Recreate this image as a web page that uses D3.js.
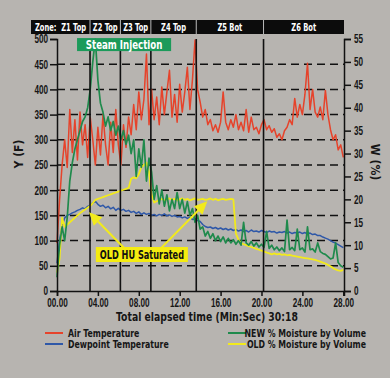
<!DOCTYPE html>
<html>
<head>
<meta charset="utf-8">
<script src="https://cdn.jsdelivr.net/npm/d3@7"></script>
<style>
  body { margin: 0; background: #b7b4b0; }
  svg { display: block; font-family: "DejaVu Sans Condensed", "DejaVu Sans", sans-serif; }
</style>
</head>
<body>
<div class="chart"></div>
<script>
// elapsed time in minutes
var minutes = [0,0.25,0.5,0.75,1,1.25,1.5,1.75,2,2.25,2.5,2.75,3,3.25,3.5,3.75,4,4.25,4.5,4.75,5,5.25,5.5,5.75,6,6.25,6.5,6.75,7,
  7.25,7.5,7.75,8,8.25,8.5,8.75,9,9.25,9.5,9.75,10,10.25,10.5,10.75,11,11.25,11.5,11.75,12,12.25,12.5,12.75,13,13.25,13.5,13.75,14,
  14.25,14.5,14.75,15,15.25,15.5,15.75,16,16.25,16.5,16.75,17,17.25,17.5,17.75,18,18.25,18.5,18.75,19,19.25,19.5,19.75,20,20.25,20.5,20.75,21,
  21.25,21.5,21.75,22,22.25,22.5,22.75,23,23.25,23.5,23.75,24,24.25,24.5,24.75,25,25.25,25.5,25.75,26,26.25,26.5,26.75,27,27.25,27.5,27.75,28];

// Y (F)
var airTemp = [95,180,250,300,245,360,275,340,260,355,290,330,265,345,300,250,325,270,350,290,250,335,275,360,290,250,330,285,345,
  310,370,320,395,340,380,470,330,400,340,385,330,405,350,395,438,345,390,335,410,355,395,444,360,420,498,400,375,
  345,360,330,340,318,330,315,335,395,335,320,340,325,350,320,335,318,360,315,345,320,325,312,330,340,320,328,315,
  322,305,312,300,318,325,340,330,382,345,370,350,390,452,360,400,355,345,365,340,398,350,320,300,310,280,290,265];

var dewpoint = [55,100,130,145,150,152,155,157,160,162,165,163,168,170,175,178,172,168,170,165,168,163,166,160,164,160,162,158,160,
  156,158,154,157,152,155,152,154,150,152,149,152,150,153,149,151,148,150,147,148,145,147,144,146,142,143,140,138,
  132,128,126,127,124,126,123,125,122,124,121,123,120,122,119,121,118,120,117,121,118,119,117,120,118,116,119,117,
  118,115,117,116,118,115,117,114,116,115,117,114,116,113,115,112,113,110,110,107,105,103,100,97,95,92,89,86];

// W (%)
var newMoisture = [3,10,14,11,16,24,28,31,33,35,37,38,40,44,50,55,46,41,39,36,38,35,37,34,36,33,35,32,34,
  30,33,25,31,27,33,24,29,26,20,23,19,22,18.5,21,17.5,20,18,21.5,18,20,17,19.5,16.5,18,15,16.5,13.5,14,
  12,13,11.5,12.5,11,12,10.8,11.8,10.5,11.5,10.5,11.2,10.2,11,10,15,10.5,10,10.8,9.8,10.5,9.6,10.2,9.5,13,9.3,10,9,
  9.6,8.8,9.4,8.6,15.5,9,9.5,8.8,13.5,9,9.4,8.5,14,9,9.2,8.5,10.5,8.6,8.2,8,7.5,7,7.2,10.5,6.2,5.5,5.2,5];

var oldMoisture = [4,7,16,14,14.5,15,15.5,16,16.5,17,17.4,17.8,18.2,18.6,19.2,19.9,20.1,20.3,20.5,20.7,20.9,21.1,21.3,21.5,21.7,21.9,22.1,22.3,22.5,
  24.5,24.8,24.6,25.5,27,27.5,28,26,21,19.3,19.6,19.9,20.1,19.8,20,20.2,19.9,20.1,19.8,20,20.2,19.9,20.1,19.8,20,20.2,19.9,20,
  20.1,19.9,20,20.2,19.9,20.1,19.8,20,20.1,19.9,20,20.1,20,12.5,11.2,10.5,10.2,10,9.8,9.6,9.4,9.2,9,8.8,8.6,8.4,8.2,8,
  8.2,8,8.1,7.9,8,7.8,7.9,7.7,7.6,7.5,7.4,7.3,7.2,7.1,7,6.9,6.8,6.6,6.4,6.2,6,5.7,5.4,5,4.7,4.5,4.4,4.6];

var leftTicks = [0,50,100,150,200,250,300,350,400,450,500];
var rightTicks = [0,5,10,15,20,25,30,35,40,45,50,55];
var timeTicks = [0,4,8,12,16,20,24,28];

var zoneEdges = [3.23, 6.2, 9.18, 13.62, 20.2];
var zoneNames = ["Zone:  Z1 Top", "Z2 Top", "Z3 Top", "Z4 Top", "Z5 Bot", "Z6 Bot"];

var svgWidth = 390;
var svgHeight = 378;
var margin = { top: 39, right: 46, bottom: 87, left: 57 };
var width = svgWidth - margin.left - margin.right;
var height = svgHeight - margin.top - margin.bottom;

var svg = d3.select(".chart")
  .append("svg")
  .attr("width", svgWidth)
  .attr("height", svgHeight);

var chart = svg.append("g")
  .attr("transform", "translate(" + margin.left + "," + margin.top + ")");

var xScale = d3.scaleLinear().domain([0, 28.07]).range([0, width]);
var yLeft = d3.scaleLinear().domain([0, 500]).range([height, 0]);
var yRight = d3.scaleLinear().domain([0, 55]).range([height, 0]);

// squeeze text horizontally, the original uses a condensed face
function squeeze(sel, k) {
  sel.each(function() {
    var t = d3.select(this);
    var x = +t.attr("x") || 0, y = +t.attr("y") || 0;
    var prev = t.attr("transform") || "";
    t.attr("x", 0).attr("y", 0)
      .attr("transform", prev + " translate(" + x + "," + y + ") scale(" + k + ",1)");
  });
}

// dashed gridlines
chart.append("g")
  .selectAll("line")
  .data(leftTicks.filter(function(d) { return d > 0 && d < 500; }))
  .enter()
  .append("line")
  .attr("x1", 0)
  .attr("x2", width)
  .attr("y1", function(d) { return yLeft(d); })
  .attr("y2", function(d) { return yLeft(d); })
  .attr("stroke", "#111")
  .attr("stroke-width", 1.5)
  .attr("stroke-dasharray", "8,5");

// series
var rows = minutes.map(function(m, i) {
  return { t: m, air: airTemp[i], dew: dewpoint[i], nw: newMoisture[i], old: oldMoisture[i] };
});

function drawLine(key, scale, color, w) {
  var line = d3.line()
    .x(function(d) { return xScale(d.t); })
    .y(function(d) { return scale(d[key]); });
  chart.append("path")
    .datum(rows)
    .attr("d", line)
    .attr("fill", "none")
    .attr("stroke", color)
    .attr("stroke-width", w)
    .attr("stroke-linejoin", "round");
}

drawLine("air", yLeft, "#e6432b", 1.5);
drawLine("dew", yLeft, "#2f58a8", 1.5);
drawLine("old", yRight, "#f2ea1c", 1.8);
drawLine("nw", yRight, "#1f8a4c", 1.7);

// zone boundaries
chart.append("g")
  .selectAll("line")
  .data(zoneEdges)
  .enter()
  .append("line")
  .attr("x1", function(d) { return xScale(d); })
  .attr("x2", function(d) { return xScale(d); })
  .attr("y1", 0)
  .attr("y2", height)
  .attr("stroke", "#111")
  .attr("stroke-width", 1.6);

// axes
var leftAxis = d3.axisLeft(yLeft).tickValues(leftTicks).tickSize(7).tickPadding(2);
var rightAxis = d3.axisRight(yRight).tickValues(rightTicks).tickSize(7).tickPadding(3);
var bottomAxis = d3.axisBottom(xScale).tickValues(timeTicks).tickSize(5).tickPadding(2)
  .tickFormat(d3.format("05.2f"));

function styleAxis(g) {
  g.selectAll("path").attr("stroke", "#111").attr("stroke-width", 1.5);
  g.selectAll("line").attr("stroke", "#111").attr("stroke-width", 1.5);
  g.selectAll("text").attr("fill", "#161616").style("font-size", "12px").style("font-weight", "bold");
  squeeze(g.selectAll("text"), 0.68);
}

chart.append("g").call(leftAxis).call(styleAxis);
chart.append("g").attr("transform", "translate(" + width + ",0)").call(rightAxis).call(styleAxis);
chart.append("g").attr("transform", "translate(0," + height + ")").call(bottomAxis).call(styleAxis);

// axis titles
svg.append("text")
  .attr("transform", "translate(23," + (margin.top + 115) + ") rotate(-90)")
  .attr("text-anchor", "middle")
  .style("font-size", "12px")
  .style("font-weight", "bold")
  .attr("fill", "#161616")
  .text("Y (F)");

svg.append("text")
  .attr("transform", "translate(371," + (margin.top + 123) + ") rotate(90)")
  .attr("text-anchor", "middle")
  .style("font-size", "12px")
  .style("font-weight", "bold")
  .attr("fill", "#161616")
  .text("W (%)");

svg.append("text")
  .attr("x", 207)
  .attr("y", margin.top + height + 30)
  .attr("text-anchor", "middle")
  .style("font-size", "12px")
  .style("font-weight", "bold")
  .attr("fill", "#161616")
  .text("Total elapsed time (Min:Sec) 30:18")
  .call(squeeze, 0.86);

// zone header
var header = chart.append("g").attr("transform", "translate(0,-19)");
var cellEdges = [-26].concat(zoneEdges.map(xScale)).concat([width]);

header.append("rect")
  .attr("x", cellEdges[0])
  .attr("y", 0)
  .attr("width", width - cellEdges[0])
  .attr("height", 14)
  .attr("fill", "#0c0c0c");

header.selectAll("line")
  .data(zoneEdges)
  .enter()
  .append("line")
  .attr("x1", function(d) { return xScale(d); })
  .attr("x2", function(d) { return xScale(d); })
  .attr("y1", 0)
  .attr("y2", 14)
  .attr("stroke", "#bbb")
  .attr("stroke-width", 1);

header.selectAll("text")
  .data(zoneNames)
  .enter()
  .append("text")
  .attr("x", function(d, i) { return (cellEdges[i] + cellEdges[i + 1]) / 2; })
  .attr("y", 11)
  .attr("text-anchor", "middle")
  .attr("fill", "#fff")
  .style("font-size", "11px")
  .style("font-weight", "bold")
  .style("white-space", "pre")
  .text(function(d) { return d; })
  .call(squeeze, 0.68);

// steam injection label
chart.append("rect")
  .attr("x", xScale(1.96))
  .attr("y", yRight(55.2))
  .attr("width", xScale(11.16) - xScale(1.96))
  .attr("height", 13)
  .attr("fill", "#1c9a5a");

chart.append("text")
  .attr("x", (xScale(1.96) + xScale(11.16)) / 2)
  .attr("y", yRight(55.2) + 11)
  .attr("text-anchor", "middle")
  .attr("fill", "#fff")
  .style("font-size", "12px")
  .style("font-weight", "bold")
  .text("Steam Injection")
  .call(squeeze, 0.8);

// OLD HU saturated callout
var arrows = [
  { from: [6.56, 9.4], to: [3.13, 17.2] },
  { from: [10.1, 9.2], to: [14.7, 19.6] }
];

arrows.forEach(function(a) {
  var x1 = xScale(a.from[0]), y1 = yRight(a.from[1]);
  var x2 = xScale(a.to[0]), y2 = yRight(a.to[1]);
  var ang = Math.atan2(y2 - y1, x2 - x1);
  var len = 13, half = 6;
  var bx = x2 - len * Math.cos(ang), by = y2 - len * Math.sin(ang);
  chart.append("line")
    .attr("x1", x1).attr("y1", y1)
    .attr("x2", bx).attr("y2", by)
    .attr("stroke", "#f2ea1c")
    .attr("stroke-width", 2);
  chart.append("polygon")
    .attr("points", [
      [x2, y2],
      [bx - half * Math.sin(ang), by + half * Math.cos(ang)],
      [bx + half * Math.sin(ang), by - half * Math.cos(ang)]
    ].map(function(p) { return p.join(","); }).join(" "))
    .attr("fill", "#f2ea1c");
});

chart.append("rect")
  .attr("x", xScale(3.8))
  .attr("y", yRight(9.6))
  .attr("width", xScale(12.8) - xScale(3.8))
  .attr("height", 15)
  .attr("fill", "#f5ec10");

chart.append("text")
  .attr("x", (xScale(3.8) + xScale(12.8)) / 2)
  .attr("y", yRight(9.6) + 12)
  .attr("text-anchor", "middle")
  .attr("fill", "#111")
  .style("font-size", "12px")
  .style("font-weight", "bold")
  .text("OLD HU Saturated")
  .call(squeeze, 0.76);

// legend
var legendItems = [
  { label: "Air Temperature", color: "#e6432b", x: 45, y: 333, anchor: "start" },
  { label: "Dewpoint Temperature", color: "#2f58a8", x: 45, y: 344, anchor: "start" },
  { label: "NEW % Moisture by Volume", color: "#1f8a4c", x: 228, y: 333, anchor: "end" },
  { label: "OLD % Moisture by Volume", color: "#f2ea1c", x: 228, y: 344, anchor: "end" }
];

var legend = svg.append("g");
legendItems.forEach(function(d) {
  legend.append("line")
    .attr("x1", d.x).attr("x2", d.x + 18)
    .attr("y1", d.y).attr("y2", d.y)
    .attr("stroke", d.color)
    .attr("stroke-width", 2);
  legend.append("text")
    .attr("x", d.anchor === "start" ? d.x + 23 : 366)
    .attr("y", d.y + 4)
    .attr("text-anchor", d.anchor)
    .attr("fill", "#161616")
    .style("font-size", "11px")
    .style("font-weight", "bold")
    .text(d.label)
    .call(squeeze, 0.79);
});
</script>
</body>
</html>
